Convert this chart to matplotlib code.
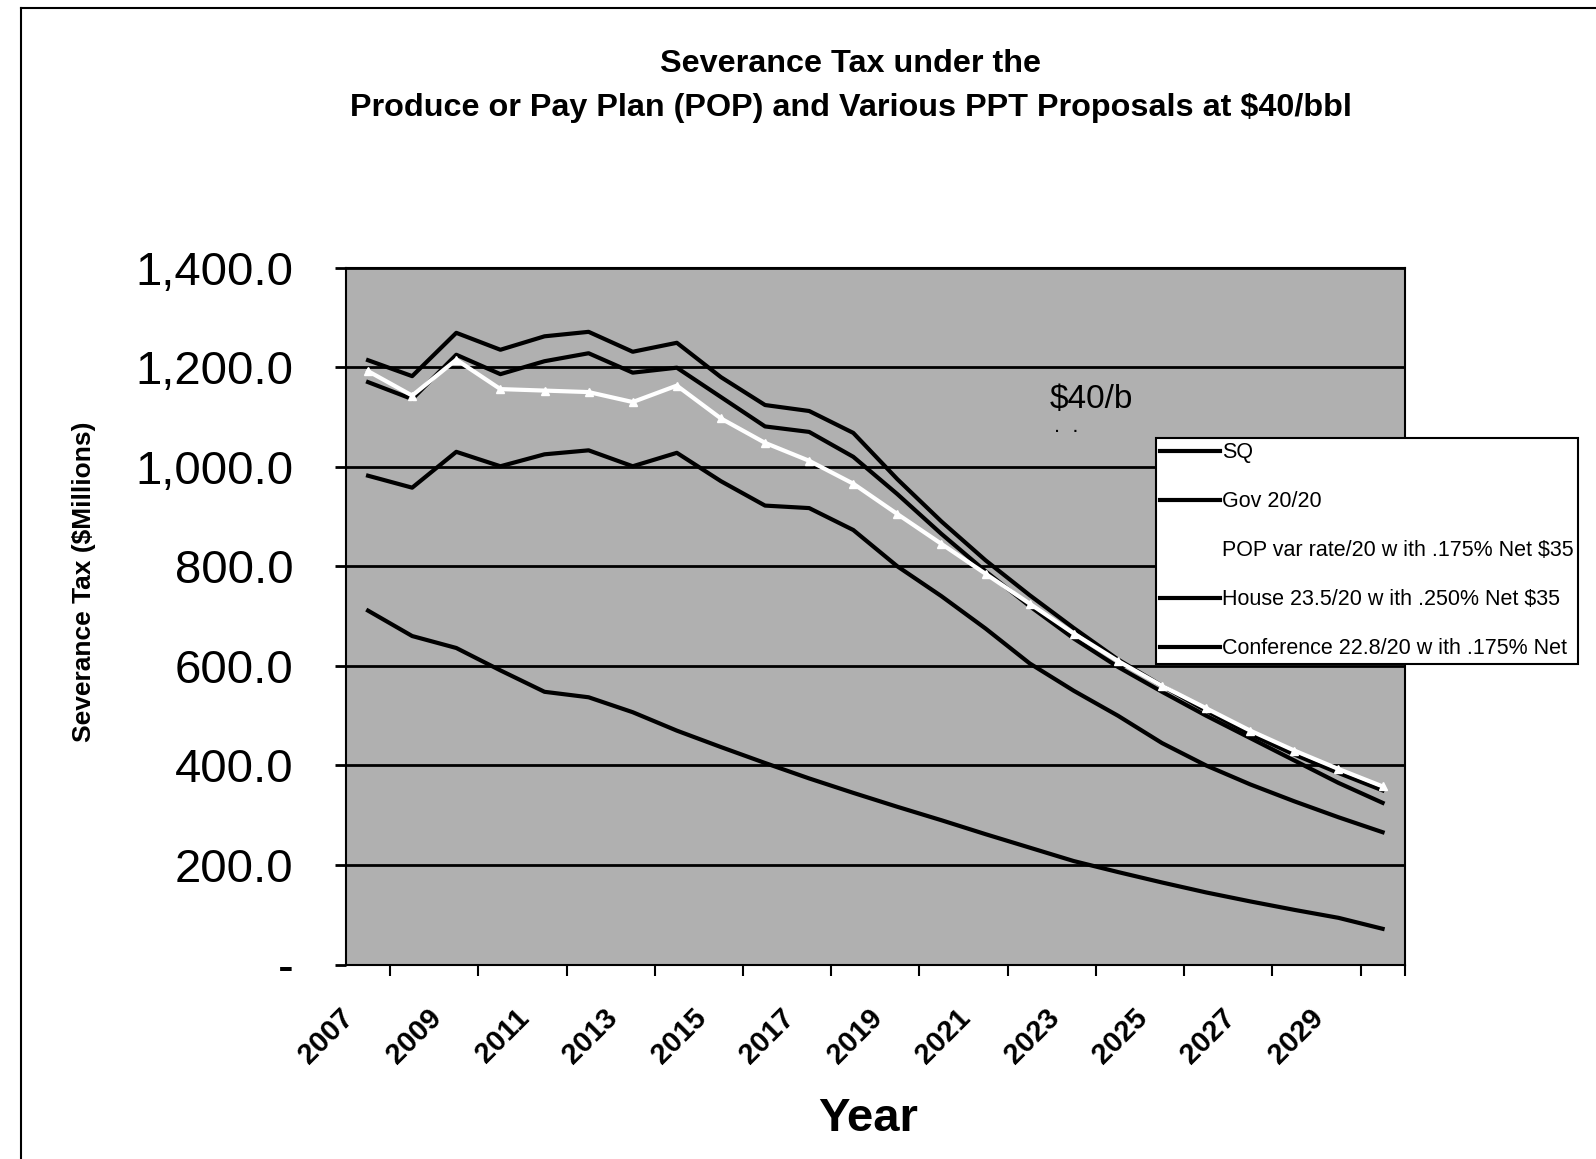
import matplotlib.pyplot as plt
from matplotlib.lines import Line2D
from matplotlib.transforms import ScaledTranslation

plt.rcParams['font.family'] = ['Liberation Sans', 'DejaVu Sans']

# data ($ millions at $40/bbl)
years = list(range(2007, 2031))
sq = [711, 660, 636, 591, 548, 537, 507, 470, 437, 405, 374, 345,
      317, 290, 262, 235, 208, 186, 165, 145, 127, 110, 94, 72]
gov = [982, 958, 1030, 1001, 1025, 1033, 1001, 1028, 971, 922, 917, 873,
       800, 740, 675, 605, 550, 500, 445, 400, 362, 328, 296, 266]
pop = [1192, 1143, 1215, 1156, 1153, 1150, 1130, 1163, 1097, 1048, 1012, 966,
       905, 845, 785, 725, 665, 610, 560, 515, 470, 430, 393, 358]
house = [1214, 1182, 1269, 1235, 1262, 1271, 1231, 1249, 1180, 1124, 1112, 1068,
         975, 890, 812, 742, 676, 613, 560, 510, 463, 422, 385, 350]
conf = [1170, 1136, 1225, 1186, 1212, 1228, 1189, 1199, 1140, 1081, 1070, 1020,
        945, 865, 790, 720, 655, 598, 548, 500, 455, 410, 365, 325]

# last entry is cut by the page edge in the scan
labels = ['SQ', 'Gov 20/20', 'POP var rate/20 w ith .175% Net $35',
          'House 23.5/20 w ith .250% Net $35', 'Conference 22.8/20 w ith .175% Net']

yticks = [0, 200, 400, 600, 800, 1000, 1200, 1400]
ytick_labels = ['-', '200.0', '400.0', '600.0', '800.0', '1,000.0', '1,200.0', '1,400.0']

fig = plt.figure(figsize=(15.96, 11.59), dpi=100)
ax = fig.add_axes([0.2168, 0.1677, 0.6633, 0.6014])
ax.set_facecolor('#b0b0b0')

x = list(range(len(years)))
ax.plot(x, sq, color='black', lw=3)
ax.plot(x, gov, color='black', lw=3)
ax.plot(x, conf, color='black', lw=3)
ax.plot(x, house, color='black', lw=3)
ax.plot(x, pop, color='white', lw=3, marker='^', ms=6, mec='white', mfc='white')

ax.set_xlim(-0.5, len(years) - 0.5)
ax.set_ylim(0, 1400)
ax.set_yticks(yticks)
ax.set_yticklabels(ytick_labels, fontsize=34)
ax.yaxis.grid(True, color='black', lw=2)
ax.set_axisbelow(True)
ax.tick_params(axis='y', length=8, width=2, pad=30)

# category boundaries get tick marks, every other year gets a label
ax.set_xticks([i - 0.5 for i in range(len(years) + 1)], minor=True)
ax.set_xticks([i - 0.5 for i in range(0, len(years), 2)])
ax.set_xticklabels([str(y) for y in years[::2]], rotation=45, ha='right',
                   rotation_mode='anchor', fontsize=21, fontweight='bold')
ax.tick_params(axis='x', which='major', length=0, pad=28)
ax.tick_params(axis='x', which='minor', length=8, width=1.5)
shift = ScaledTranslation(-0.07, 0, fig.dpi_scale_trans)
for lab in ax.get_xticklabels():
    lab.set_transform(lab.get_transform() + shift)

for s in ax.spines.values():
    s.set_color('black')
    s.set_linewidth(1.5)

ax.set_ylabel('Severance Tax ($Millions)', fontsize=19, fontweight='bold')
ax.yaxis.set_label_coords(-0.236, 0.55)
ax.set_xlabel('Year', fontsize=34, fontweight='bold')
ax.xaxis.set_label_coords(0.493, -0.19)

fig.text(0.533, 0.945, 'Severance Tax under the', ha='center', va='center',
         fontsize=23.3, fontweight='bold')
fig.text(0.533, 0.907, 'Produce or Pay Plan (POP) and Various PPT Proposals at $40/bbl',
         ha='center', va='center', fontsize=23.3, fontweight='bold')
ax.text(15.45, 1135, '$40/b', fontsize=24, ha='left', va='center')
ax.text(15.55, 1080, '.  .', fontsize=16, ha='left', va='center')

handles = [Line2D([], [], color='black', lw=3),
           Line2D([], [], color='black', lw=3),
           Line2D([], [], color='white', lw=3),
           Line2D([], [], color='black', lw=3),
           Line2D([], [], color='black', lw=3)]
leg = fig.legend(handles, labels, loc='upper left', bbox_to_anchor=(0.724, 0.622),
                 fontsize=15.5, labelspacing=1.3, handlelength=2.8, handletextpad=0.1,
                 frameon=True, fancybox=False, borderaxespad=0, borderpad=0.2,
                 framealpha=1)
leg.get_frame().set_edgecolor('black')
leg.get_frame().set_linewidth(1.5)

# outer chart border of the scan
fig.add_artist(Line2D([0.013, 1.0], [0.993, 0.993], color='black', lw=1.5))
fig.add_artist(Line2D([0.013, 0.013], [0.0, 0.993], color='black', lw=1.5))

fig.savefig('out.png', dpi=100)
